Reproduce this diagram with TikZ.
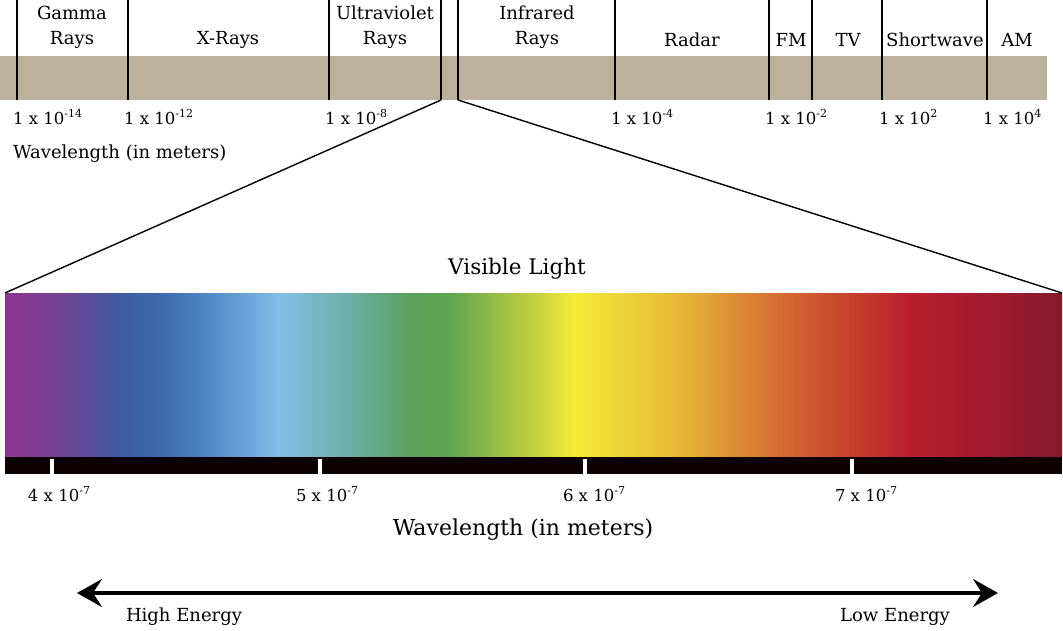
\documentclass[tikz,border=0pt]{standalone}
\usepackage{fontspec}
\setmainfont{DejaVu Serif}
\usetikzlibrary{arrows.meta}
\definecolor{band}{RGB}{188,178,155}
\definecolor{s1}{RGB}{140,52,140}
\definecolor{s1b}{RGB}{115,65,145}
\definecolor{s2}{RGB}{60,90,162}
\definecolor{s2b}{RGB}{62,105,175}
\definecolor{s3}{RGB}{75,130,195}
\definecolor{s3b}{RGB}{100,160,215}
\definecolor{s4}{RGB}{130,190,230}
\definecolor{s5}{RGB}{110,175,170}
\definecolor{s6}{RGB}{90,160,92}
\definecolor{s6b}{RGB}{95,165,80}
\definecolor{s7}{RGB}{200,210,62}
\definecolor{s8}{RGB}{245,235,55}
\definecolor{s9}{RGB}{230,185,55}
\definecolor{s10}{RGB}{215,115,50}
\definecolor{s11}{RGB}{200,70,45}
\definecolor{s12}{RGB}{185,30,45}
\definecolor{s13}{RGB}{135,25,45}
\pgfdeclarehorizontalshading{spectrum}{100bp}{color(0bp)=(s1); color(25bp)=(s1); color(27.6bp)=(s1b); color(30.44bp)=(s2); color(32.33bp)=(s2b); color(34.22bp)=(s3); color(36.12bp)=(s3b); color(37.96bp)=(s4); color(41.08bp)=(s5); color(44.16bp)=(s6); color(46.05bp)=(s6b); color(50.21bp)=(s7); color(51.96bp)=(s8); color(56.74bp)=(s9); color(61.14bp)=(s10); color(64.59bp)=(s11); color(67.86bp)=(s12); color(75bp)=(s13); color(100bp)=(s13)}
\newcommand{\supx}[1]{\raisebox{0.45em}{\fontsize{11}{11}\selectfont #1}}
\tikzset{
  toplabel/.style={font=\fontsize{18}{18}\selectfont, inner sep=0pt},
  ticklabel/.style={font=\fontsize{16.5}{16.5}\selectfont, inner sep=0pt, anchor=west},
  vticklabel/.style={font=\fontsize{16.5}{16.5}\selectfont, inner sep=0pt},
  energy/.style={font=\fontsize{18}{18}\selectfont, inner sep=0pt},
  divider/.style={line width=1.8pt, black},
  zoomline/.style={line width=1.4pt, black},
  whitetick/.style={line width=3.5pt, white},
}
\begin{document}
\begin{tikzpicture}[x=1pt,y=-1pt]
\useasboundingbox (0,0) rectangle (1063,631);
% top band
\fill[band] (0,56) rectangle (1047,100);
\foreach \x/\n in {17/a,128/b,329/c,441/d,458/e,615/f,769/g,812/h,882/i,987/j}{
  \coordinate (t\n) at (\x,0);
  \coordinate (b\n) at (\x,100);
  \draw[divider] (t\n) -- (b\n);
}
% band labels
\node[toplabel] (gam1) at (72,13) {Gamma};
\node[toplabel] (gam2) at (72,40) {Rays};
\node[toplabel] (xray) at (228,40) {X-Rays};
\node[toplabel] (uv1) at (385,13) {Ultraviolet};
\node[toplabel] (uv2) at (385,40) {Rays};
\node[toplabel] (ir1) at (537,13) {Infrared};
\node[toplabel] (ir2) at (537,40) {Rays};
\node[toplabel] (radar) at (692,40) {Radar};
\node[toplabel] (fm) at (791,40) {FM};
\node[toplabel] (tv) at (848,40) {TV};
\node[toplabel] (sw) at (935,40) {Shortwave};
\node[toplabel] (am) at (1017,40) {AM};
% wavelength ticks top
\node[ticklabel] (w1) at (13,117) {1 x 10\supx{-14}};
\node[ticklabel] (w2) at (124,117) {1 x 10\supx{-12}};
\node[ticklabel] (w3) at (325,117) {1 x 10\supx{-8}};
\node[ticklabel] (w4) at (611,117) {1 x 10\supx{-4}};
\node[ticklabel] (w5) at (765,117) {1 x 10\supx{-2}};
\node[ticklabel] (w6) at (879,117) {1 x 10\supx{2}};
\node[ticklabel] (w7) at (983,117) {1 x 10\supx{4}};
\node[toplabel, anchor=west] (wlen1) at (13,154) {Wavelength (in meters)};
% visible light
\node[font=\fontsize{21.5}{21.5}\selectfont, inner sep=0pt] (vis) at (517,269) {Visible Light};
\shade[shading=spectrum] (5,293) rectangle (1062,457);
\coordinate (sl) at (5,293);
\coordinate (sr) at (1062,293);
\draw[zoomline] (bd) -- (sl);
\draw[zoomline] (be) -- (sr);
% black scale bar
\fill[black!95!red] (5,457) rectangle (1062,474);
\foreach \x/\n in {52/p,320/q,585/r,852/s}{
  \coordinate (u\n) at (\x,459);
  \coordinate (v\n) at (\x,474);
  \draw[whitetick] (u\n) -- (v\n);
}
\node[vticklabel] (v4) at (59,494) {4 x 10\supx{-7}};
\node[vticklabel] (v5) at (327,494) {5 x 10\supx{-7}};
\node[vticklabel] (v6) at (594,494) {6 x 10\supx{-7}};
\node[vticklabel] (v7) at (866,494) {7 x 10\supx{-7}};
\node[font=\fontsize{22}{22}\selectfont, inner sep=0pt] (wlen2) at (523,530) {Wavelength (in meters)};
% energy arrow
\coordinate (al) at (77,593);
\coordinate (ar) at (998,593);
\draw[line width=3.5pt, {Stealth[length=25pt,width=28pt,inset=9pt]}-{Stealth[length=25pt,width=28pt,inset=9pt]}] (al) -- (ar);
\node[energy] (he) at (184,617) {High Energy};
\node[energy] (le) at (895,617) {Low Energy};
\end{tikzpicture}
\end{document}
